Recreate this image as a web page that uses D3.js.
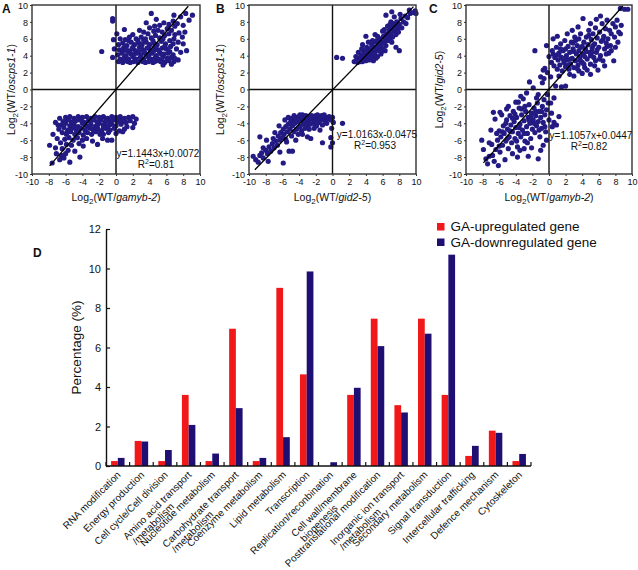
<!DOCTYPE html>
<html><head><meta charset="utf-8">
<script src="https://cdn.jsdelivr.net/npm/d3@7"></script>
<style>
body{margin:0;background:#fff}
svg{display:block}
text{font-family:"Liberation Sans",Arial,Helvetica,sans-serif;fill:#111}
</style>
</head><body>
<svg id="chart" width="638" height="570"></svg>
<script>
// ---------------- DATA ----------------
const scatterTicks = [-10,-8,-6,-4,-2,0,2,4,6,8,10];
const panelLetters = ["A","B","C"];
const xTitleItalic = ["gamyb-2","gid2-5","gamyb-2"];
const yTitleItalic = ["oscps1-1","oscps1-1","gid2-5"];
const regSlope = [1.1443, 1.0163, 1.1057];
const regIntercept = [0.0072, -0.0475, 0.0447];
const regXFrom = [-7.9, -9.3, -7.9];
const regXTo = [8.6, 9.7, 8.9];
const eqLabels = ["y=1.1443x+0.0072","y=1.0163x-0.0475","y=1.1057x+0.0447"];
const r2Labels = ["0.81","0.953","0.82"];

const pointsA = [
[0.3,3.3],[0.8,3.2],[1.2,3.4],[1.7,3.2],[2.1,3.3],[2.6,3.2],[3.0,3.4],[3.5,3.2],[3.9,3.3],[4.4,3.2],[4.8,3.4],[5.3,3.3],[5.8,3.2],[6.3,3.4],[6.9,3.3],[7.4,3.5],[5.6,2.9],
[0.5,3.6],[1.0,3.8],[1.5,3.6],[2.0,3.9],[2.4,3.6],[2.9,3.8],[3.3,3.6],[3.8,3.9],[4.2,3.6],[4.7,3.8],[5.1,3.6],[5.6,3.9],[6.1,3.7],[6.6,3.8],
[0.2,4.1],[0.7,4.3],[1.2,4.0],[1.6,4.4],[2.1,4.1],[2.5,4.3],[3.0,4.1],[3.4,4.4],[3.9,4.1],[4.3,4.3],[4.8,4.0],[5.2,4.4],[5.7,4.2],[6.2,4.3],[6.8,4.1],[7.7,4.4],
[0.4,4.7],[0.9,4.9],[1.4,4.6],[1.9,4.8],[2.3,4.6],[2.8,5.0],[3.2,4.7],[3.7,4.9],[4.1,4.6],[4.6,5.0],[5.0,4.7],[5.5,4.9],[6.0,4.8],[6.5,5.1],[7.2,4.8],
[0.3,5.3],[0.8,5.5],[1.3,5.2],[1.8,5.6],[2.2,5.3],[2.7,5.5],[3.1,5.3],[3.6,5.6],[4.0,5.3],[4.5,5.5],[4.9,5.3],[5.4,5.7],[5.9,5.4],[6.4,5.8],
[0.5,6.0],[1.1,5.9],[1.6,6.2],[2.4,6.0],[3.0,6.2],[3.5,6.0],[4.2,6.1],[4.7,6.4],[5.2,6.1],[5.8,6.4],[6.3,6.6],[2.0,6.5],[3.8,6.6],[4.5,6.9],[5.0,7.0],[5.5,6.8],[6.1,7.2],[6.6,7.0],[7.0,7.5],
[4.0,7.3],[5.2,7.6],[6.8,8.1],[7.3,7.8],[3.6,7.9],[4.8,8.3],[4.2,9.0],[6.9,8.8],[7.7,8.6],[8.3,9.0],[9.1,8.8],[6.3,7.7],[8.0,7.6],[7.9,6.2],[7.4,5.6],[8.0,5.4],[8.4,4.6],[6.6,3.0],
[-0.4,8.4],[-0.4,8.1],[-1.7,4.5],[-0.3,5.9],[-0.2,4.8],[-0.4,3.8],[0.1,6.6],[1.0,7.1],[2.8,7.0],[3.3,6.8],[4.6,7.5],[5.7,7.9],[7.0,6.5],[7.5,6.7],[8.2,6.8],[8.7,8.2],
[0.6,3.5],[1.4,3.3],[2.3,3.5],[3.2,3.3],[4.0,3.5],[4.6,3.3],[5.5,3.4],[6.2,3.6],[7.0,3.7],[0.9,4.6],[1.8,4.2],[2.7,4.5],[3.6,4.2],[4.5,4.6],[5.4,4.2],[6.4,4.5],
[1.1,5.1],[2.0,5.0],[3.0,5.1],[3.9,5.0],[4.8,5.2],[5.8,5.1],[6.8,5.4],[1.5,5.8],[2.6,5.8],[3.3,5.8],[4.4,5.8],[5.6,6.0],[6.9,6.0],
[-6.0,-3.3],[-5.5,-3.2],[-5.0,-3.4],[-4.5,-3.2],[-4.0,-3.3],[-3.5,-3.2],[-3.0,-3.4],[-2.5,-3.2],[-2.0,-3.3],[-1.5,-3.2],[-1.0,-3.4],[-0.5,-3.2],[0.0,-3.3],[0.5,-3.2],[1.0,-3.4],[1.5,-3.3],[2.0,-3.2],[2.4,-3.5],
[-6.3,-3.8],[-5.8,-3.6],[-5.3,-3.9],[-4.8,-3.7],[-4.3,-3.6],[-3.8,-3.9],[-3.3,-3.7],[-2.8,-3.6],[-2.3,-3.8],[-1.8,-3.6],[-1.3,-3.9],[-0.8,-3.7],[-0.3,-3.6],[0.2,-3.8],[0.7,-3.6],[1.2,-3.9],[1.7,-3.7],[2.2,-4.0],
[-6.5,-4.2],[-6.0,-4.0],[-5.5,-4.3],[-5.0,-4.1],[-4.5,-4.4],[-4.0,-4.0],[-3.5,-4.3],[-3.0,-4.1],[-2.5,-4.4],[-2.0,-4.0],[-1.5,-4.2],[-1.0,-4.4],[-0.5,-4.1],[0.0,-4.3],[0.6,-4.1],[1.3,-4.4],[2.0,-4.5],
[-6.8,-4.7],[-6.2,-4.5],[-5.7,-4.8],[-5.2,-4.6],[-4.7,-4.9],[-4.2,-4.6],[-3.7,-4.8],[-3.2,-4.5],[-2.7,-4.8],[-2.2,-4.6],[-1.7,-4.9],[-1.2,-4.6],[-0.7,-4.8],[-0.2,-4.6],[0.4,-4.9],[1.0,-4.7],
[-7.5,-5.3],[-6.4,-5.1],[-5.9,-5.3],[-5.4,-5.0],[-4.9,-5.3],[-4.4,-5.1],[-3.9,-5.4],[-3.4,-5.1],[-2.9,-5.3],[-2.4,-5.0],[-1.9,-5.3],[-1.5,-5.3],[-0.9,-5.1],[0.0,-5.2],[0.8,-5.0],
[-7.0,-5.8],[-6.1,-5.9],[-5.6,-5.7],[-5.1,-6.0],[-4.6,-5.7],[-4.0,-6.0],[-3.5,-5.8],[-2.8,-6.1],[-1.6,-5.8],[-1.0,-6.0],[-0.5,-6.0],[-6.6,-6.3],[-5.9,-6.5],[-5.3,-6.6],[-4.4,-6.4],[-3.9,-6.7],[-2.2,-6.5],
[-7.9,-6.6],[-7.2,-6.9],[-6.4,-7.0],[-5.7,-7.2],[-4.9,-7.3],[-7.1,-7.6],[-6.5,-7.8],[-6.0,-7.6],[-4.3,-8.0],[-7.6,-8.7],[-6.7,-8.3],[-5.5,-8.6],[-6.2,-8.1],
[-5.6,-3.5],[-4.2,-3.5],[-2.7,-3.5],[-1.2,-3.6],[0.3,-3.5],[-5.1,-4.0],[-3.7,-4.2],[-2.2,-4.2],[-0.8,-4.2],[0.9,-3.8],[-4.7,-4.5],[-3.0,-4.6],[-1.5,-4.5],[-5.8,-5.0],[-3.6,-5.0],[-2.1,-4.8],[-6.9,-4.2],[-7.2,-3.9],[-6.7,-3.4]
];

const pointsB = [
[0.5,3.8],[1.2,3.7],[2.6,3.3],[2.8,3.9],[3.0,3.2],[3.1,4.4],[3.3,3.6],[3.4,4.0],[3.6,3.3],[3.7,4.6],[3.8,3.8],[3.9,4.2],[4.0,3.4],[4.1,5.0],[4.2,4.4],[4.3,3.8],[4.4,4.8],[4.5,4.1],[4.6,3.6],[4.7,5.3],
[4.8,4.5],[4.9,4.0],[5.0,5.0],[5.1,4.4],[5.2,5.6],[5.3,4.8],[5.4,3.9],[5.5,5.3],[5.6,4.6],[5.7,6.0],[5.8,5.1],[5.9,5.6],[6.0,4.8],[6.1,6.3],[6.2,5.5],[6.3,6.0],[6.4,5.2],[6.5,6.6],[6.6,5.8],[6.7,6.3],
[6.8,7.0],[6.9,5.9],[7.0,6.6],[7.1,7.3],[7.2,6.2],[7.3,7.8],[7.4,6.9],[7.5,7.5],[7.6,6.5],[7.7,8.0],[7.8,7.2],[8.0,7.7],[8.2,8.4],[8.3,7.3],[8.5,8.0],[8.7,8.7],[9.0,8.5],[9.3,9.0],[9.7,9.1],[9.9,9.3],
[8.1,8.9],[7.4,8.6],[6.2,7.1],[5.1,6.5],[4.0,6.3],[3.6,5.3],[4.3,5.6],[8.0,4.6],[7.6,5.0],[4.9,3.4],[5.8,4.2],[3.2,3.7],[3.5,4.8],[4.6,4.7],[5.3,5.8],[6.0,6.9],[6.6,7.5],[7.1,5.6],[3.9,3.6],[4.4,3.5],
[5.6,5.4],[6.4,6.4],[5.0,4.2],[4.2,3.9],[6.8,6.6],[7.9,6.8],[8.8,7.8],[9.2,9.4],[7.0,8.0],[2.9,3.4],[3.6,4.1],[4.8,5.8],[5.4,6.3],[6.3,4.6],[5.9,4.5],[4.1,4.7],[3.4,3.3],[5.2,3.7],[6.9,7.7],[6.4,8.8],[7.1,9.2],[10.0,9.0],
[-9.5,-7.9],[-9.2,-8.3],[-8.9,-8.6],[-8.7,-7.8],[-8.5,-7.5],[-8.3,-8.1],[-8.0,-7.2],[-8.7,-5.6],[-7.8,-7.6],[-7.6,-6.8],[-7.4,-7.3],[-7.2,-6.4],[-7.1,-5.8],[-7.0,-6.9],[-6.8,-6.1],[-6.6,-6.6],[-6.5,-5.5],[-6.3,-6.0],[-6.2,-5.1],[-6.0,-5.7],
[-5.9,-8.7],[-5.9,-4.7],[-5.8,-5.3],[-5.6,-4.4],[-5.5,-6.2],[-5.4,-5.0],[-5.3,-4.1],[-5.2,-7.3],[-5.1,-4.7],[-5.0,-3.8],[-4.9,-5.5],[-4.8,-4.3],[-4.7,-3.6],[-4.6,-5.0],[-4.5,-4.0],[-4.4,-3.3],[-4.3,-4.7],[-4.2,-3.8],[-4.1,-5.3],[-4.0,-3.2],
[-3.9,-4.4],[-3.8,-3.6],[-3.7,-4.9],[-3.6,-3.0],[-3.5,-4.1],[-3.4,-3.4],[-3.3,-4.6],[-3.2,-3.1],[-3.1,-3.8],[-3.0,-5.6],[-3.0,-4.3],[-2.9,-3.2],[-2.8,-3.6],[-2.7,-4.1],[-2.6,-5.8],[-2.5,-3.1],[-2.4,-3.5],[-2.3,-4.0],[-2.2,-3.3],[-2.1,-3.8],
[-2.0,-3.1],[-1.9,-4.3],[-1.8,-3.5],[-1.7,-3.2],[-1.6,-3.9],[-1.5,-3.3],[-1.4,-3.6],[-1.3,-3.1],[-1.2,-4.2],[-1.1,-3.4],[-1.0,-3.2],[-0.9,-3.7],[-0.8,-3.3],[-0.6,-3.5],[-0.4,-3.2],[-0.2,-3.6],[0.0,-3.3],[0.1,-3.9],[-0.1,-4.6],[-0.2,-5.7],
[-0.2,-6.8],[0.0,-6.3],[1.2,-4.0],[-1.2,-6.3],[-4.8,-7.3],[-6.3,-7.4],[-7.7,-8.5],[-5.7,-3.6],[-6.4,-4.3],[-5.0,-3.4],[-4.4,-6.0],[-3.6,-5.3],[-2.8,-4.7],[-3.9,-3.0],[-2.2,-4.6],[-1.5,-4.8],[-0.7,-4.0],[-6.9,-5.1],[-7.9,-6.0],[-8.3,-6.9],
[-5.6,-5.9],[-4.6,-3.1],[-3.3,-3.9],[-2.6,-3.3],[-1.8,-3.0],[-1.0,-3.0],[-5.3,-3.3]
];

const pointsC = [
[0.0,3.9],[0.3,3.2],[0.4,4.6],[0.6,2.8],[0.7,3.8],[0.9,5.0],[1.0,2.4],[1.1,3.5],[1.2,4.3],[1.3,2.9],[1.4,5.4],[1.5,3.8],[1.6,2.2],[1.7,4.6],[1.8,3.2],[1.9,5.8],[2.0,2.7],[2.1,4.0],[2.2,3.5],[2.3,5.1],
[2.4,2.4],[2.5,4.4],[2.6,3.0],[2.7,5.6],[2.8,3.7],[2.9,4.8],[3.0,2.6],[3.1,6.2],[3.2,3.4],[3.3,4.2],[3.4,5.2],[3.5,2.9],[3.6,4.6],[3.7,3.8],[3.8,6.6],[3.9,5.0],[4.0,3.2],[4.1,4.2],[4.2,5.6],[4.3,2.6],
[4.4,4.8],[4.5,6.2],[4.6,3.6],[4.7,5.3],[4.8,7.0],[4.9,4.4],[5.0,3.0],[5.1,5.9],[5.2,4.9],[5.3,6.6],[5.4,3.8],[5.5,5.4],[5.6,7.3],[5.7,4.4],[5.8,6.1],[5.9,2.3],[6.0,5.0],[6.1,6.8],[6.2,4.0],[6.3,5.7],
[6.4,7.8],[6.5,3.4],[6.6,6.3],[6.7,4.8],[6.8,7.2],[6.9,5.5],[7.0,8.2],[7.1,6.0],[7.2,4.3],[7.3,7.0],[7.4,5.2],[7.5,6.6],[7.7,7.8],[7.8,3.4],[7.9,6.2],[8.0,7.4],[8.2,8.2],[8.3,5.6],[8.4,6.8],[8.6,9.6],
[8.7,7.6],[9.1,9.5],[9.5,9.5],[8.6,6.6],[4.1,8.4],[-1.7,4.6],[-0.7,2.3],[-0.6,1.3],[2.0,0.4],[1.5,0.3],[0.8,0.4],[-0.2,2.0],[0.2,1.5],[-0.3,5.2],[0.5,6.0],[1.0,6.3],[2.2,6.6],[2.8,7.0],[3.5,7.4],[5.0,7.8],
[5.7,8.3],[6.2,8.7],[3.0,1.6],[4.0,1.9],[5.0,1.8],[6.7,2.8],[2.5,1.8],[1.2,1.6],[3.6,2.2],[4.6,2.3],[5.5,2.8],[7.5,4.6],[8.0,5.0],[3.2,5.8],[2.0,4.8],[1.0,4.1],[4.3,3.9],[5.0,4.0],[5.8,4.7],[3.8,3.4],
[2.6,3.6],[3.0,4.5],[4.5,4.5],[5.3,5.2],[6.5,5.9],[3.6,6.0],[4.8,6.4],[2.3,2.9],[1.7,3.6],[4.2,3.0],[5.6,3.4],[6.9,4.2],[0.5,4.2],[1.4,4.8],[3.4,2.5],[2.9,5.5],[4.0,5.1],[5.2,4.4],[6.1,3.6],[7.0,5.1],
[-8.1,-6.0],[-7.6,-8.2],[-7.4,-8.8],[-7.2,-7.9],[-6.8,-7.8],[-6.6,-8.5],[-6.9,-6.5],[-6.4,-7.1],[-6.2,-6.0],[-6.0,-4.9],[-5.9,-7.4],[-5.8,-5.6],[-5.6,-6.6],[-5.5,-4.3],[-5.4,-5.2],[-5.2,-6.1],[-5.1,-3.6],[-5.0,-4.7],[-4.9,-7.0],[-4.8,-5.6],
[-4.7,-3.1],[-4.6,-4.2],[-4.5,-6.3],[-4.4,-5.0],[-4.3,-2.6],[-4.2,-3.8],[-4.1,-5.8],[-4.0,-4.5],[-3.9,-3.3],[-3.8,-6.8],[-3.7,-5.2],[-3.6,-2.2],[-3.5,-4.1],[-3.4,-5.6],[-3.3,-3.0],[-3.2,-4.8],[-3.1,-1.1],[-3.0,-3.7],[-2.9,-6.1],[-2.8,-2.6],
[-2.7,-4.4],[-2.6,-5.2],[-2.5,-3.3],[-2.4,-1.8],[-2.3,-4.0],[-2.2,-5.8],[-2.1,-2.8],[-2.0,-4.7],[-1.9,-3.6],[-1.8,-2.2],[-1.7,-5.1],[-1.6,-3.1],[-1.5,-4.3],[-1.4,-1.6],[-1.3,-8.2],[-1.3,-3.8],[-1.2,-2.6],[-1.1,-5.6],[-1.0,-3.3],[-0.9,-4.6],
[-0.8,-2.0],[-0.7,-6.6],[-0.7,-3.9],[-0.6,-1.2],[-0.5,-3.0],[-0.4,-5.0],[-0.3,-2.4],[-0.2,-0.6],[0.0,-3.6],[0.2,-1.6],[0.4,-4.4],[0.6,-3.9],[0.9,-4.2],[0.3,-2.8],[1.2,-3.2],[-3.7,-1.5],[-5.1,-2.3],[-2.35,0.9],[-1.9,0.2],[-1.3,-0.6],
[-6.5,-3.5],[-7.0,-4.8],[-6.3,-5.2],[-5.7,-3.0],[-4.9,-2.0],[-3.0,-7.0],[-2.1,-6.9],[-4.4,-7.6],[-5.3,-8.3],[-6.1,-9.0],[-7.9,-7.1],[-3.8,-8.0],[-2.5,-7.9],[-1.0,-7.2],[-0.3,-6.0],[-4.0,-1.5],[-3.4,-0.8],[-2.7,-0.4],[-6.7,-2.7],[-5.9,-2.7],
[-3.6,-4.5],[-3.0,-5.2],[-2.4,-3.6],[-4.4,-3.4],[-5.2,-4.0],[-3.9,-6.1],[-1.8,-4.0],[-2.9,-2.0],[-4.7,-4.9],[-5.6,-5.0],[-1.2,-4.8],[-0.5,-4.4],[-2.2,-3.2],[-3.3,-2.3],[-1.6,-2.6],[-4.1,-2.9],[-6.0,-6.7],[-5.0,-5.8],[-3.5,-7.2],[-2.6,-6.3],
[-7.2,-6.3],[-0.9,-2.6],[-0.1,-1.6],[-1.5,-1.0],[0.6,-1.0],[-0.8,0.8],[-1.0,1.5],[-0.5,2.5]
];

const categories = ["RNA modification","Energy production","Cell cycle/Cell division","Amino acid transport\n/metabolism","Nucleotide metabolism","Carbohydrate transport\n/metabolism","Coenzyme metabolism","Lipid metabolism","Transcription","Replication/reconbination","Cell wall/membrane\nbiogenesis","Posttranslational modification","Inorganic ion transport\n/metabolism","Secondary metabolism","Signal transduction","Intercellular trafficking","Defence mechanism","Cytoskeleton"];
const upValues   = [0.25,1.27,0.25,3.60,0.25,6.95,0.25,9.02,4.64,0.00,3.60,7.46,3.08,7.46,3.60,0.51,1.79,0.25];
const downValues = [0.41,1.24,0.81,2.08,0.63,2.93,0.41,1.46,9.85,0.19,3.96,6.07,2.71,6.70,10.70,1.02,1.68,0.61];
const seriesNames = ["GA-upregulated gene","GA-downregulated gene"];
const barTicks = [0,2,4,6,8,10,12];

// ---------------- LAYOUT ----------------
const FONT = '"Liberation Sans",Arial,Helvetica,sans-serif';
const DOT = "#231a84";
const RED = "#f01818";
const BLUE = "#1f0f72";
const svg = d3.select("#chart");

const panelLayout = [
  {x0:32,  x1:200, letterX:2,   ylabX:11,  eqX:158, eqY:157},
  {x0:249, x1:416, letterX:216, ylabX:220, eqX:377, eqY:138},
  {x0:466, x1:632, letterX:429, ylabX:439, eqX:591, eqY:139}
];
const sTop = 5, sBot = 174;
const allPoints = [pointsA, pointsB, pointsC];

panelLayout.forEach((L, i) => {
  const g = svg.append("g");
  const x = d3.scaleLinear().domain([-10,10]).range([L.x0, L.x1]);
  const y = d3.scaleLinear().domain([-10,10]).range([sBot, sTop]);

  g.append("g").selectAll("circle").data(allPoints[i]).join("circle")
    .attr("cx", d => x(d[0])).attr("cy", d => y(d[1])).attr("r", 2.6)
    .attr("fill", DOT);

  g.append("line").attr("x1", x(0)).attr("x2", x(0)).attr("y1", y(-10)).attr("y2", y(10))
    .attr("stroke", "#111").attr("stroke-width", 1.4);
  g.append("line").attr("x1", x(-10)).attr("x2", x(10)).attr("y1", y(0)).attr("y2", y(0))
    .attr("stroke", "#111").attr("stroke-width", 1.4);

  const xa = regXFrom[i], xb = regXTo[i];
  g.append("line")
    .attr("x1", x(xa)).attr("y1", y(regSlope[i]*xa + regIntercept[i]))
    .attr("x2", x(xb)).attr("y2", y(regSlope[i]*xb + regIntercept[i]))
    .attr("stroke", "#000").attr("stroke-width", 1.3);

  g.append("rect").attr("x", x(-10)).attr("y", y(10))
    .attr("width", x(10)-x(-10)).attr("height", y(-10)-y(10))
    .attr("fill", "none").attr("stroke", "#333").attr("stroke-width", 1.4);

  const xa_ = g.append("g").attr("transform", `translate(0,${sBot})`)
    .call(d3.axisBottom(x).tickValues(scatterTicks).tickSize(2).tickPadding(3).tickFormat(d3.format("d")));
  const ya_ = g.append("g").attr("transform", `translate(${L.x0},0)`)
    .call(d3.axisLeft(y).tickValues(scatterTicks).tickSize(2).tickPadding(2).tickFormat(d3.format("d")));
  [xa_, ya_].forEach(a => {
    a.select(".domain").remove();
    a.selectAll("line").attr("stroke", "#333");
    a.selectAll("text").attr("font-size", 9).attr("font-family", FONT).attr("fill", "#222");
    a.selectAll("text").text(d => d < 0 ? "-" + Math.abs(d) : d);
  });
  ya_.selectAll("text").attr("dy", "0.35em");

  g.append("text").attr("x", L.eqX).attr("y", L.eqY).attr("text-anchor", "middle")
    .attr("font-size", 10).text(eqLabels[i]);
  const r2 = g.append("text").attr("x", L.eqX - 2).attr("y", L.eqY + 11).attr("text-anchor", "middle")
    .attr("font-size", 10);
  r2.append("tspan").text("R");
  r2.append("tspan").attr("dy", -4).attr("font-size", 7).text("2");
  r2.append("tspan").attr("dy", 4).text("=" + r2Labels[i]);

  g.append("text").attr("x", L.letterX).attr("y", 13).attr("font-size", 12)
    .attr("font-weight", "bold").text(panelLetters[i]);

  const xt = g.append("text").attr("x", x(0)).attr("y", 201).attr("text-anchor", "middle")
    .attr("font-size", 10.5);
  xt.append("tspan").text("Log");
  xt.append("tspan").attr("dy", 3).attr("font-size", 8).text("2");
  xt.append("tspan").attr("dy", -3).text("(WT/");
  xt.append("tspan").attr("font-style", "italic").text(xTitleItalic[i]);
  xt.append("tspan").text(")");

  const yt = g.append("text").attr("transform", `translate(${L.ylabX},${y(0)}) rotate(-90)`)
    .attr("text-anchor", "middle").attr("dy", "0.35em").attr("font-size", 10.5);
  yt.append("tspan").text("Log");
  yt.append("tspan").attr("dy", 3).attr("font-size", 8).text("2");
  yt.append("tspan").attr("dy", -3).text("(WT/");
  yt.append("tspan").attr("font-style", "italic").text(yTitleItalic[i]);
  yt.append("tspan").text(")");
});

// ---------------- BAR CHART D ----------------
const bx0 = 106, bx1 = 531, by0 = 466, by1 = 229;
const x0 = d3.scaleBand().domain(categories).range([bx0, bx1]).paddingInner(0.43).paddingOuter(0.215);
const x1 = d3.scaleBand().domain(seriesNames).range([0, x0.bandwidth()]);
const yb = d3.scaleLinear().domain([0, 12]).range([by0, by1]);
const color = d3.scaleOrdinal().domain(seriesNames).range([RED, BLUE]);

const bars = svg.append("g");
const rows = categories.map((c, i) => ({cat: c, vals: [upValues[i], downValues[i]]}));
bars.selectAll("g.grp").data(rows).join("g").attr("class", "grp")
  .attr("transform", d => `translate(${x0(d.cat)},0)`)
  .selectAll("rect").data(d => d.vals.map((v, k) => ({s: seriesNames[k], v})))
  .join("rect")
  .attr("x", d => x1(d.s)).attr("width", x1.bandwidth())
  .attr("y", d => yb(d.v)).attr("height", d => by0 - yb(d.v))
  .attr("fill", d => color(d.s));

const yAx = svg.append("g").attr("transform", `translate(${bx0},0)`)
  .call(d3.axisLeft(yb).tickValues(barTicks).tickSize(-4).tickPadding(5).tickSizeOuter(0));
yAx.select(".domain").attr("stroke", "#111").attr("stroke-width", 1.4);
yAx.selectAll("line").attr("stroke", "#111").attr("stroke-width", 1.2);
yAx.selectAll("text").attr("font-size", 11).attr("font-family", FONT).attr("fill", "#222");

svg.append("line").attr("x1", bx0).attr("x2", bx1).attr("y1", by0).attr("y2", by0)
  .attr("stroke", "#111").attr("stroke-width", 1.4);
const step = x0.step();
const bounds = d3.range(categories.length + 1).map(k => bx0 + k * step);
svg.append("g").selectAll("line").data(bounds).join("line")
  .attr("x1", d => d).attr("x2", d => d).attr("y1", by0).attr("y2", by0 - 4)
  .attr("stroke", "#111").attr("stroke-width", 1.2);

// category labels: first line ends at the group, second line starts under the first line's start
const labG = svg.append("g").selectAll("g").data(categories).join("g")
  .attr("transform", d => `translate(${x0(d) + x0.bandwidth()/2 + 1},${by0 + 7}) rotate(-45)`);
labG.each(function(d) {
  const parts = d.split("\n");
  const g = d3.select(this);
  const t1 = g.append("text").attr("text-anchor", "end").attr("dy", "0.35em")
    .attr("font-size", 10).attr("fill", "#222").text(parts[0]);
  if (parts[1]) {
    const w = t1.node().getComputedTextLength();
    g.append("text").attr("x", -w + 3).attr("y", 10).attr("dy", "0.35em")
      .attr("font-size", 10).attr("fill", "#222").text(parts[1]);
  }
});

svg.append("text").attr("transform", `translate(76,${(by0+by1)/2}) rotate(-90)`)
  .attr("text-anchor", "middle").attr("dy", "0.35em").attr("font-size", 13.5).text("Percentage (%)");

svg.append("text").attr("x", 33).attr("y", 257).attr("font-size", 12).attr("font-weight", "bold").text("D");

const leg = svg.append("g").selectAll("g").data(seriesNames).join("g")
  .attr("transform", (d, k) => `translate(437,${223 + k * 15.5})`);
leg.append("rect").attr("width", 7.5).attr("height", 7.5).attr("fill", d => color(d));
leg.append("text").attr("x", 13.5).attr("y", 8).attr("font-size", 13.5).text(d => d);
</script>
</body></html>
